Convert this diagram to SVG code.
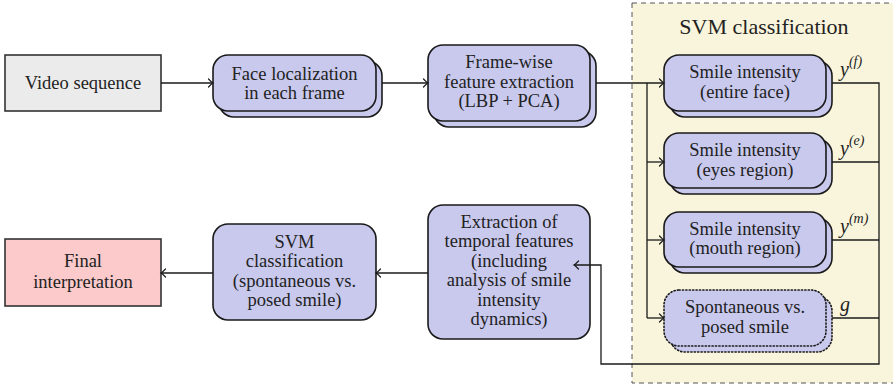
<svg xmlns="http://www.w3.org/2000/svg" width="893" height="386" viewBox="0 0 893 386">
  <style>
    .txt { font-family: "Liberation Serif", "DejaVu Serif", serif; font-size: 18.5px; fill: #222; text-anchor: middle; }
    .title { font-size: 22px; }
    .math { font-family: "Liberation Serif", "DejaVu Serif", serif; font-style: italic; font-size: 20px; fill: #222; }
    .sup { font-size: 14px; }
    .node { fill: #c9c9ee; stroke: #1a1a1a; stroke-width: 1.6; }
    .dotted { stroke-dasharray: 1.2 2.2; stroke-linecap: round; }
    .conn { fill: none; stroke: #1a1a1a; stroke-width: 1.3; }
  </style>
  <defs>
    <marker id="arrow" markerUnits="userSpaceOnUse" markerWidth="12" markerHeight="12" viewBox="-6 -6 12 12" refX="0" refY="0" orient="auto">
      <path d="M -4.5 -4 Q -1.2 -0.6 0 0 Q -1.2 0.6 -4.5 4" fill="none" stroke="#1a1a1a" stroke-width="1.2" stroke-linecap="round"/>
    </marker>
  </defs>

  <rect width="893" height="386" fill="#ffffff"/>

  <!-- SVM classification container -->
  <g id="svm-group">
    <rect x="632" y="3" width="275" height="380" fill="#f9f5dc" stroke="#555" stroke-width="1" stroke-dasharray="5 4"/>
    <text class="txt title" x="764" y="34">SVM classification</text>
  </g>

  <g id="video">
    <rect x="5" y="55" width="156" height="56" fill="#ebebeb" stroke="#333" stroke-width="1.6"/>
    <text class="txt" x="83" y="89">Video sequence</text>
  </g>

  <g id="face-localization">
    <rect class="node" x="219" y="61" width="163" height="56" rx="15"/>
    <rect class="node" x="213" y="55" width="163" height="56" rx="15"/>
    <text class="txt" x="294.5" y="80">Face localization</text>
    <text class="txt" x="294.5" y="99">in each frame</text>
  </g>

  <g id="feature-extraction">
    <rect class="node" x="434" y="51" width="162" height="76" rx="15"/>
    <rect class="node" x="428" y="45" width="162" height="76" rx="15"/>
    <text class="txt" x="509" y="68">Frame-wise</text>
    <text class="txt" x="509" y="88">feature extraction</text>
    <text class="txt" x="509" y="107">(LBP + PCA)</text>
  </g>

  <g id="smile-face">
    <rect class="node" x="670" y="61" width="162" height="56" rx="15"/>
    <rect class="node" x="664" y="55" width="162" height="56" rx="15"/>
    <text class="txt" x="745" y="78">Smile intensity</text>
    <text class="txt" x="745" y="98">(entire face)</text>
  </g>

  <g id="smile-eyes">
    <rect class="node" x="670" y="139" width="162" height="55" rx="15"/>
    <rect class="node" x="664" y="133" width="162" height="55" rx="15"/>
    <text class="txt" x="745" y="156">Smile intensity</text>
    <text class="txt" x="745" y="176">(eyes region)</text>
  </g>

  <g id="smile-mouth">
    <rect class="node" x="670" y="218" width="162" height="55" rx="15"/>
    <rect class="node" x="664" y="212" width="162" height="55" rx="15"/>
    <text class="txt" x="745" y="235">Smile intensity</text>
    <text class="txt" x="745" y="254">(mouth region)</text>
  </g>

  <g id="spontaneous-posed">
    <rect class="node dotted" x="670" y="296" width="162" height="56" rx="15"/>
    <rect class="node dotted" x="664" y="290" width="162" height="56" rx="15"/>
    <text class="txt" x="745" y="313">Spontaneous vs.</text>
    <text class="txt" x="745" y="333">posed smile</text>
  </g>

  <g id="temporal-features">
    <rect class="node" x="428" y="205" width="162" height="134" rx="15"/>
    <text class="txt" x="509" y="228">Extraction of</text>
    <text class="txt" x="509" y="247">temporal features</text>
    <text class="txt" x="509" y="267">(including</text>
    <text class="txt" x="509" y="286">analysis of smile</text>
    <text class="txt" x="509" y="306">intensity</text>
    <text class="txt" x="509" y="325">dynamics)</text>
  </g>

  <g id="svm-posed">
    <rect class="node" x="213" y="224" width="163" height="96" rx="15"/>
    <text class="txt" x="294.5" y="248">SVM</text>
    <text class="txt" x="294.5" y="267">classification</text>
    <text class="txt" x="294.5" y="287">(spontaneous vs.</text>
    <text class="txt" x="294.5" y="306">posed smile)</text>
  </g>

  <g id="final">
    <rect x="5" y="239" width="156" height="67" fill="#fccaca" stroke="#333" stroke-width="1.6"/>
    <text class="txt" x="83" y="267">Final</text>
    <text class="txt" x="83" y="288">interpretation</text>
  </g>

  <!-- connectors, drawn over the nodes -->
  <g id="connectors">
    <path class="conn" d="M161 83 H213" marker-end="url(#arrow)"/>
    <path class="conn" d="M382 83 H428" marker-end="url(#arrow)"/>
    <path class="conn" d="M596 83 H664" marker-end="url(#arrow)"/>
    <path class="conn" d="M647 83 V318"/>
    <path class="conn" d="M647 162 H664" marker-end="url(#arrow)"/>
    <path class="conn" d="M647 240 H664" marker-end="url(#arrow)"/>
    <path class="conn" d="M647 318 H664" marker-end="url(#arrow)"/>
    <path class="conn" d="M832 83 H879 V364 H601 V265 H574" marker-end="url(#arrow)"/>
    <path class="conn" d="M832 162 H879"/>
    <path class="conn" d="M832 240 H879"/>
    <path class="conn" d="M832 318 H879"/>
    <path class="conn" d="M428 273 H376" marker-end="url(#arrow)"/>
    <path class="conn" d="M213 273 H161" marker-end="url(#arrow)"/>
    <text class="math" x="840" y="76">y<tspan class="sup" dy="-10">(f)</tspan></text>
    <text class="math" x="840" y="155">y<tspan class="sup" dy="-10">(e)</tspan></text>
    <text class="math" x="840" y="233">y<tspan class="sup" dy="-10">(m)</tspan></text>
    <text class="math" x="840" y="311">g</text>
  </g>
</svg>
